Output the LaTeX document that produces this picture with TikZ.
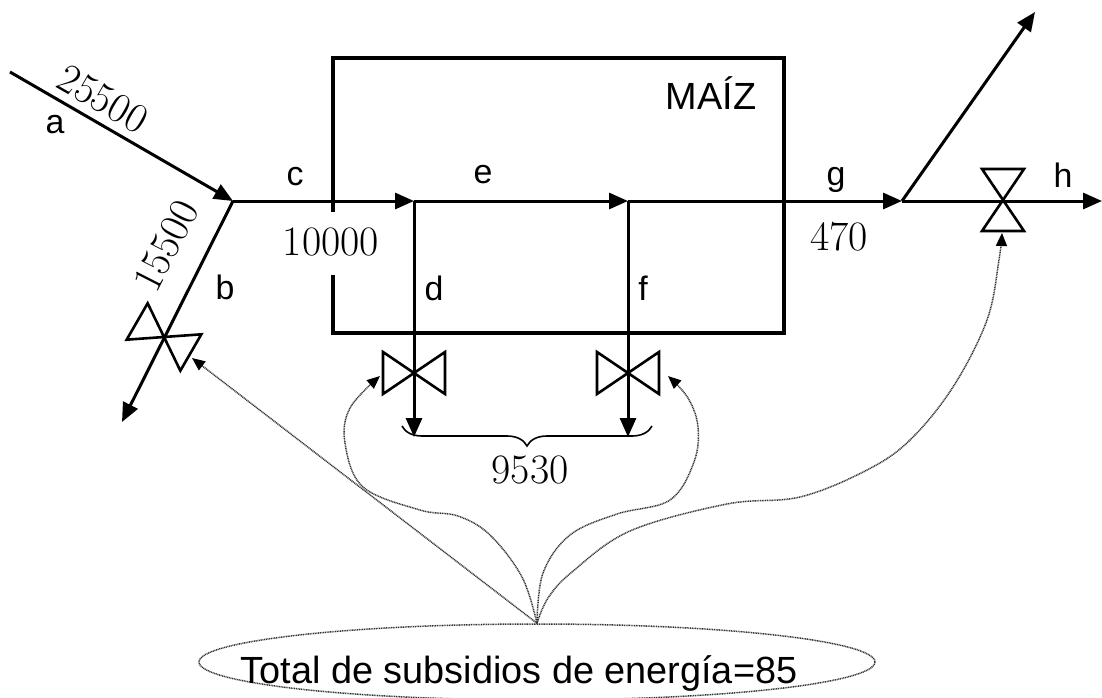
\documentclass[tikz,border=0pt]{standalone}
\usepackage{fontspec}
\newfontfamily\sansf{Liberation Sans}
\usetikzlibrary{arrows.meta,shapes.geometric,decorations.pathreplacing}
\newcommand\drawvalve[2]{\draw[valve,shift={(#1)},rotate=#2] (0,0)--(31,-21)--(31,21)--cycle (0,0)--(-31,-21)--(-31,21)--cycle;}
\begin{document}
\begin{tikzpicture}[x=1bp,y=-1bp,
  pipe/.style={line width=3bp},
  flow/.style={pipe,-{Triangle[length=19bp,width=16bp]}},
  dotline/.style={line width=1.5bp, black!80, dash pattern=on 1bp off 0.7bp},
  sub/.style={dotline,-{Triangle[length=13bp,width=11bp,fill=black,color=black]}},
  lab/.style={font=\sansf\fontsize{34}{34}\selectfont, inner sep=0},
  num/.style={font=\fontsize{42}{42}\selectfont, inner sep=0},
  valve/.style={line width=2.6bp, line join=miter}]
\useasboundingbox (0,0) rectangle (1102,698);
% process box (left side open for the inflow label)
\draw[line width=4bp, line join=miter] (333,212) -- (333,58) -- (784,58) -- (784,333) -- (333,333) -- (333,275);
% pipe points
\coordinate (A) at (10,72);
\coordinate (J) at (233,201);
\coordinate (B) at (122,422);
\coordinate (D) at (414,201);
\coordinate (F) at (628,201);
\coordinate (S) at (902,201);
\coordinate (U) at (1035,12);
\coordinate (H) at (1102,201);
\coordinate (Dend) at (414,437);
\coordinate (Fend) at (628,437);
\coordinate (VB) at (164,337);
\coordinate (VD) at (414,373);
\coordinate (VF) at (628,373);
\coordinate (VH) at (1003,200);
% flows
\draw[flow] (A) -- (J);
\draw[flow] (J) -- (B);
\draw[flow] (J) -- (D);
\draw[flow] (D) -- (F);
\draw[flow] (F) -- (S);
\draw[flow] (S) -- (U);
\draw[flow] (S) -- (H);
\draw[flow] (D) -- (Dend);
\draw[flow] (F) -- (Fend);
% valves
\drawvalve{VB}{-30}
\drawvalve{VD}{0}
\drawvalve{VF}{0}
\drawvalve{VH}{90}
% brace
\draw[line width=1.6bp, decorate, decoration={brace, mirror, amplitude=20bp}] (402,426) -- (652,426);
% labels
\node[lab] (la) at (55,125) {a};
\node[lab] (lb) at (225,287) {b};
\node[lab] (lc) at (295,177) {c};
\node[lab] (ld) at (434,288) {d};
\node[lab] (le) at (483,175) {e};
\node[lab] (lf) at (643,288) {f};
\node[lab] (lg) at (836,180) {g};
\node[lab] (lh) at (1063,175) {h};
\node[lab, font=\sansf\fontsize{38}{38}\selectfont] (maiz) at (711,93) {MAÍZ};
\node[num, rotate=-30] (n25500) at (103,99) {25500};
\node[num, rotate=63] (n15500) at (166,246) {15500};
\node[num] (n10000) at (331,242) {10000};
\node[num] (n470) at (839,237) {470};
\node[num] (n9530) at (530,470) {9530};
% subsidies
\node[draw, dotline, ellipse, minimum width=676bp, minimum height=76bp, inner sep=0] (ell) at (537,662) {};
\node[font=\sansf\fontsize{38}{38}\selectfont, inner sep=0, anchor=base] (tot) at (519,683) {Total de subsidios de energía=85};
\coordinate (tb) at (192,358);
\coordinate (td) at (380,376);
\coordinate (tf) at (668,376);
\coordinate (th) at (1002,233);
\draw[sub] (ell.north) -- (tb);
\draw[sub] plot[smooth, tension=0.6] coordinates {(ell.north) (522,577) (490,535) (458,516) (420,510) (363,487) (345,443) (350,408) (td)};
\draw[sub] plot[smooth, tension=0.6] coordinates {(ell.north) (543,573) (570,535) (617,514) (670,500) (694,462) (698,427) (688,398) (tf)};
\draw[sub] plot[smooth, tension=0.6] coordinates {(ell.north) (548,598) (572,572) (630,531) (727,504) (800,497) (867,470) (910,440) (953,387) (987,320) (999,260) (th)};
\end{tikzpicture}
\end{document}
